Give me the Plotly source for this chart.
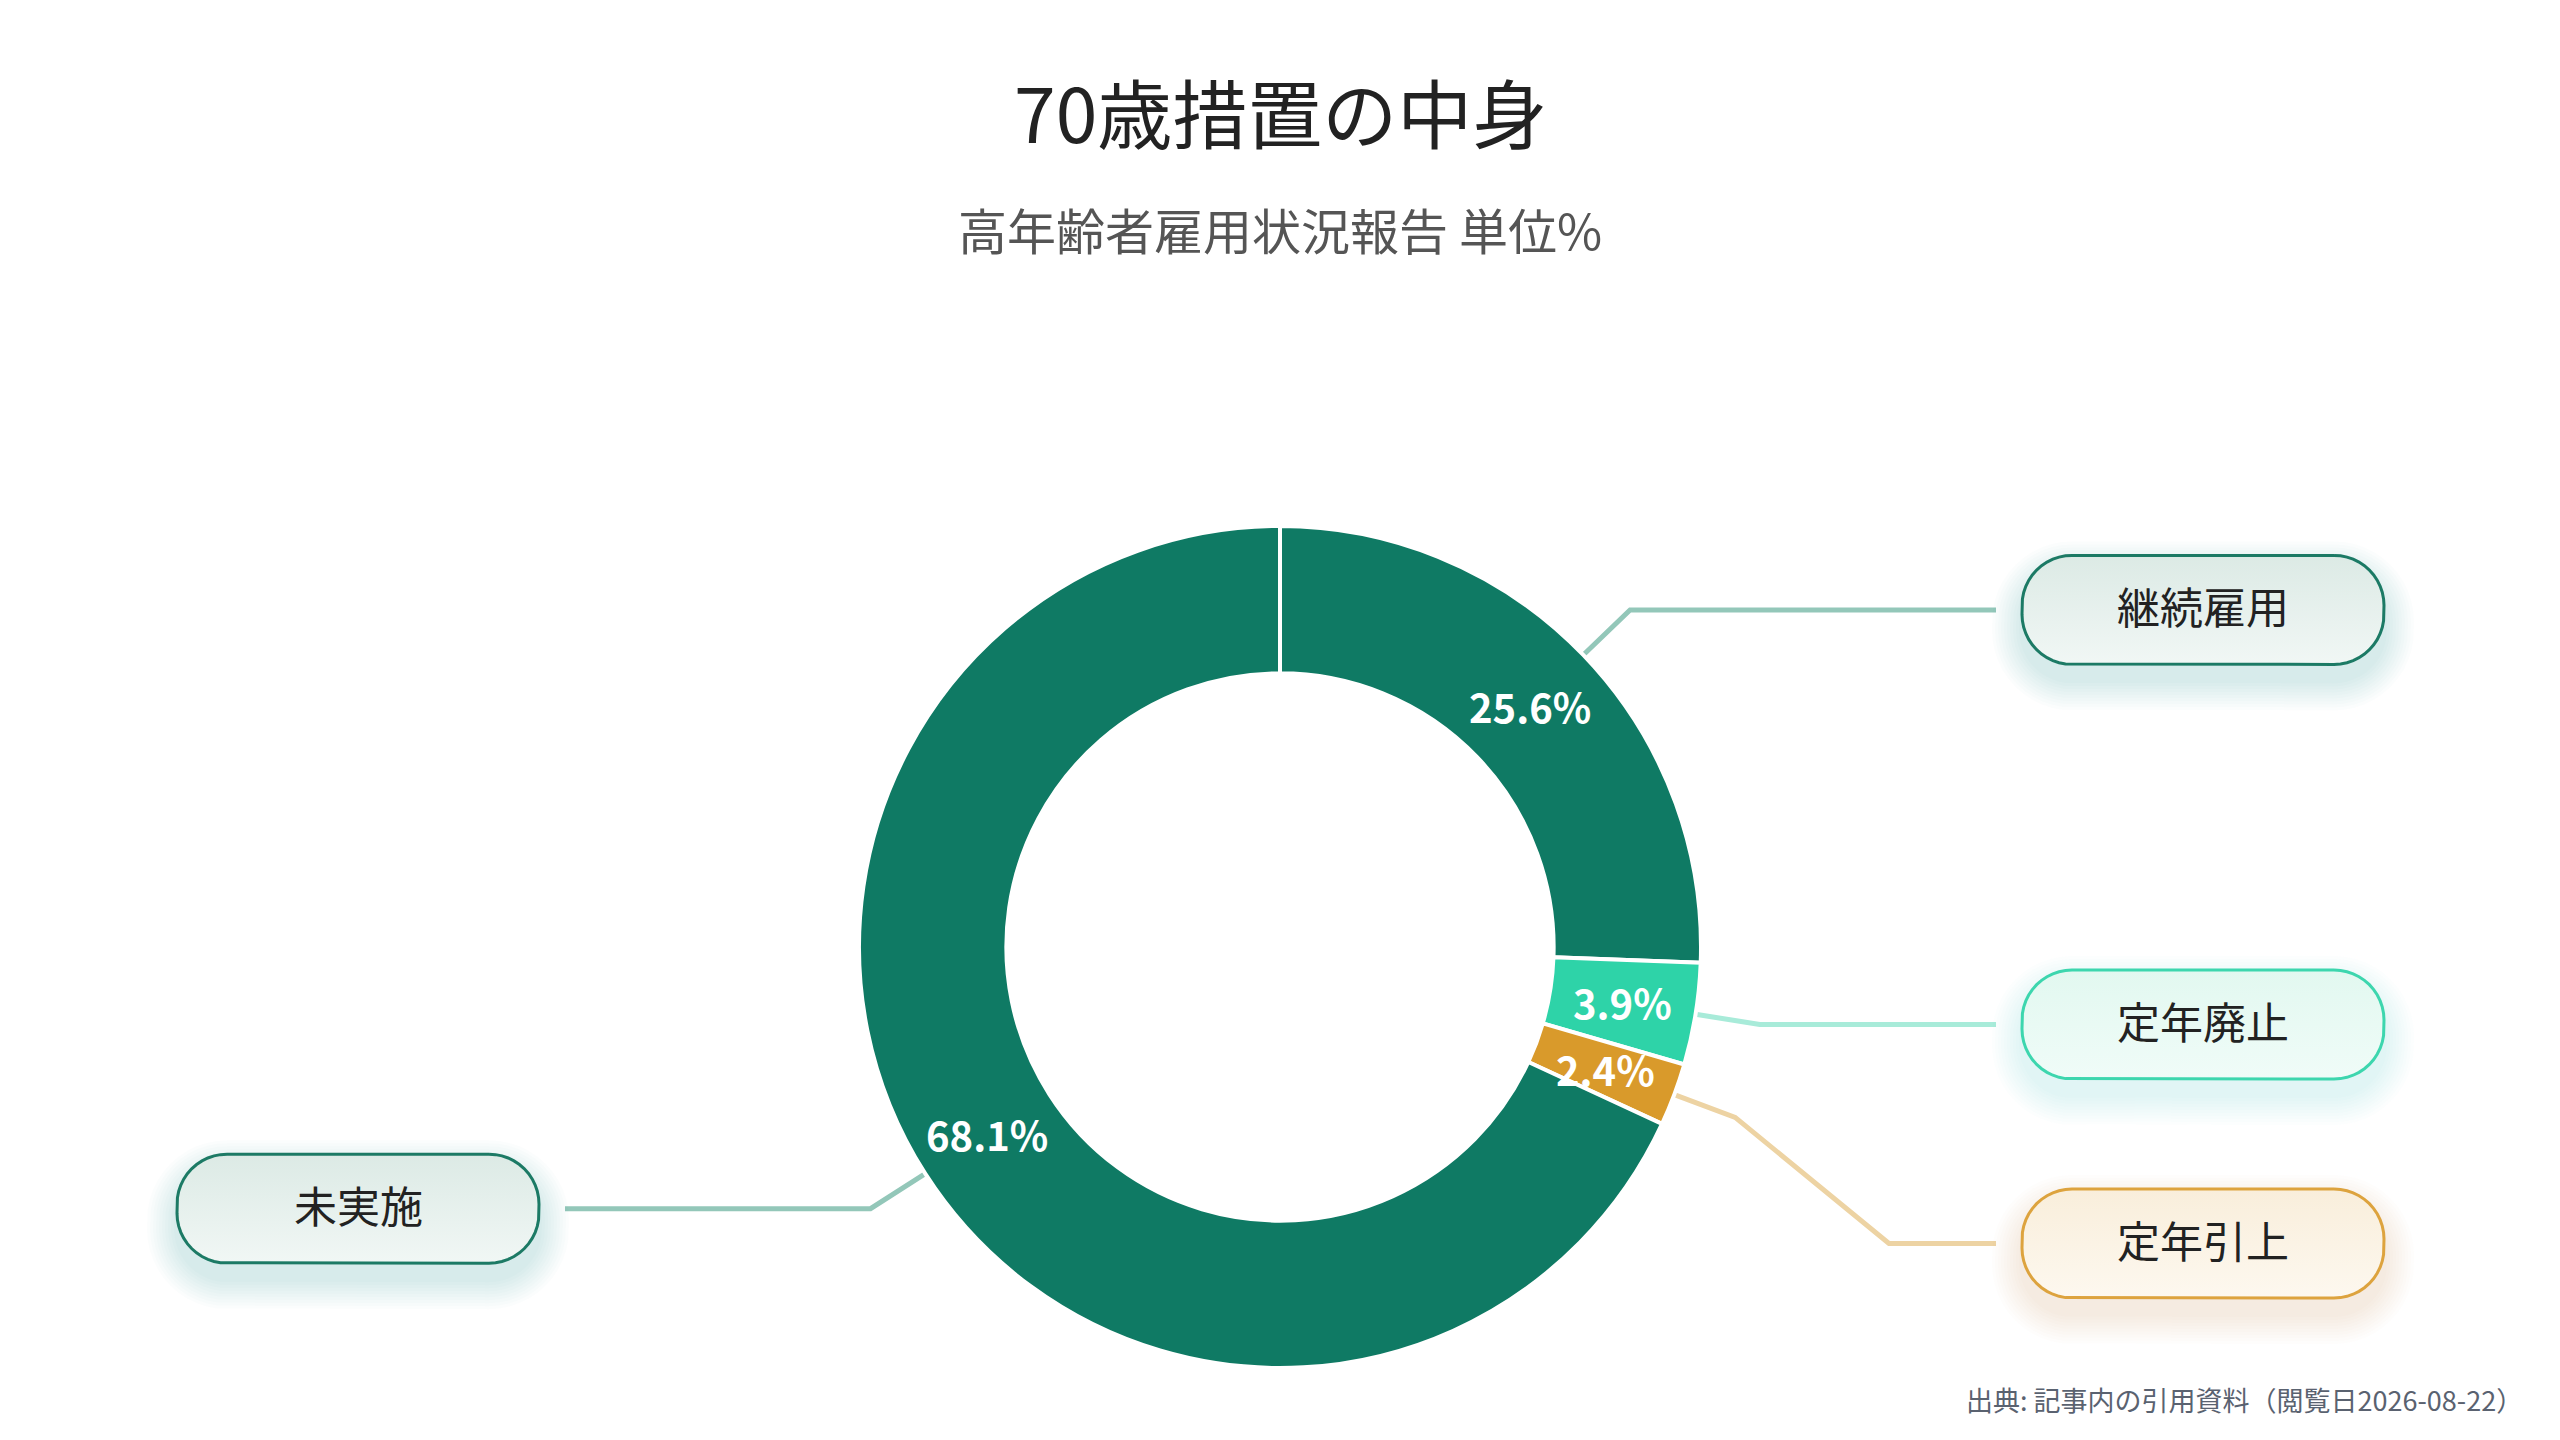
import math
import plotly.graph_objects as go

# data
categories = ["継続雇用", "定年廃止", "定年引上", "未実施"]
values = [25.6, 3.9, 2.4, 68.1]
slice_colors = ["#0F7A64", "#2ED3A8", "#D99A2B", "#0F7A64"]
line_colors = ["#93C7B9", "#A8EBD9", "#EDD3A3", "#93C7B9"]
box_border = ["#1C7A65", "#3DD6AE", "#DDA33E", "#1C7A65"]
box_top = ["#F1F7F5", "#F0FCF8", "#FDF8EF", "#F1F7F5"]
box_bottom = ["#DCEAE5", "#E2F8F0", "#F9EEDB", "#DCEAE5"]
shadow_rgb = ["15,122,100", "46,211,168", "217,154,43", "15,122,100"]

title = "70歳措置の中身"
subtitle = "高年齢者雇用状況報告 単位%"
source = "出典: 記事内の引用資料（閲覧日2026-08-22）"

W, H = 2560, 1440
OFF = 8            # page body margin, so page pixels = data coords
FONT = "Noto Sans CJK JP, Noto Sans, sans-serif"
cx, cy, R = 1280, 947, 421
HOLE = 0.65
LEN1 = 65          # radial part of the leader line
LEN2 = 107         # last horizontal part
BOX_W, BOX_H, BOX_RAD = 362, 109, 50
RIGHT_BOX_X = 2022
LEFT_BOX_X = 539   # right edge of left boxes
GAP = 26
MIN_DY = 219


def rounded_box(x0, y0, x1, y1, r, n=12):
    xs, ys = [], []
    corners = [(x1 - r, y0 + r, -90), (x1 - r, y1 - r, 0), (x0 + r, y1 - r, 90), (x0 + r, y0 + r, 180)]
    for ccx, ccy, start in corners:
        for k in range(n + 1):
            a = math.radians(start + 90 * k / n)
            xs.append(ccx + r * math.cos(a))
            ys.append(ccy + r * math.sin(a))
    xs.append(xs[0])
    ys.append(ys[0])
    return xs, ys


fig = go.Figure()

# leader lines + label boxes
total = sum(values)
cum = 0
items = []
for i, v in enumerate(values):
    mid = math.radians((cum + v / 2) / total * 360)
    cum += v
    s, c = math.sin(mid), math.cos(mid)
    p0 = (cx + R * s, cy - R * c)
    p1 = (cx + (R + LEN1) * s, cy - (R + LEN1) * c)
    items.append(dict(i=i, mid=mid, p0=p0, p1=p1, right=s > 0, ly=p1[1]))

for side in (True, False):
    grp = sorted([it for it in items if it["right"] == side], key=lambda it: it["ly"])
    for a, b in zip(grp, grp[1:]):
        if b["ly"] - a["ly"] < MIN_DY:
            b["ly"] = a["ly"] + MIN_DY

for it in items:
    i = it["i"]
    x0, y0 = it["p0"]
    x1, y1 = it["p1"]
    ly = it["ly"]
    if it["right"]:
        xend = RIGHT_BOX_X - GAP
        bx0, bx1 = RIGHT_BOX_X, RIGHT_BOX_X + BOX_W
        sgn = 1
    else:
        xend = LEFT_BOX_X + GAP
        bx0, bx1 = LEFT_BOX_X - BOX_W, LEFT_BOX_X
        sgn = -1
    px, py = [x0, x1], [y0, y1]
    if abs(ly - y1) > 2:
        px.append(xend - sgn * LEN2)
        py.append(ly)
    px.append(xend)
    py.append(ly)
    fig.add_trace(go.Scatter(x=px, y=py, mode="lines", line=dict(color=line_colors[i], width=5),
                             hoverinfo="skip", showlegend=False))

    by0, by1 = ly - BOX_H / 2, ly + BOX_H / 2
    # soft shadow
    for k in range(1, 11):
        e = 3 * k
        sx, sy = rounded_box(bx0 - e, by0 - e + 16, bx1 + e, by1 + e + 16, BOX_RAD + e)
        fig.add_trace(go.Scatter(x=sx, y=sy, mode="lines", line=dict(width=0), fill="toself",
                                 fillcolor=f"rgba({shadow_rgb[i]},0.014)", hoverinfo="skip", showlegend=False))
    bx, byy = rounded_box(bx0, by0, bx1, by1, BOX_RAD)
    fig.add_trace(go.Scatter(x=bx, y=byy, mode="lines", line=dict(color=box_border[i], width=3),
                             fill="toself",
                             fillgradient=dict(type="vertical", colorscale=[[0, box_top[i]], [1, box_bottom[i]]]),
                             hoverinfo="skip", showlegend=False))
    fig.add_annotation(x=(bx0 + bx1) / 2, y=ly - 5, xref="x", yref="y", text=categories[i], showarrow=False,
                       font=dict(family=FONT, size=43, color="#222222"))

    # percent label inside the ring
    rm = R * (1 + HOLE) / 2
    fig.add_annotation(x=cx + rm * math.sin(it["mid"]), y=cy - rm * math.cos(it["mid"]), xref="x", yref="y",
                       text=f"<b>{values[i]:.1f}%</b>", showarrow=False,
                       font=dict(family=FONT, size=40, color="white"))

fig.add_trace(go.Pie(
    labels=categories, values=values, sort=False, direction="clockwise", rotation=0, hole=HOLE,
    marker=dict(colors=slice_colors, line=dict(color="white", width=4)),
    textinfo="none", hoverinfo="label+percent", showlegend=False,
    domain=dict(x=[(cx - OFF - R) / W, (cx - OFF + R) / W],
                y=[1 - (cy - OFF + R) / H, 1 - (cy - OFF - R) / H]),
))

fig.add_annotation(x=W / 2, y=110, xref="x", yref="y", text=title, showarrow=False,
                   font=dict(family=FONT, size=75, color="#222222"))
fig.add_annotation(x=W / 2, y=228, xref="x", yref="y", text=subtitle, showarrow=False,
                   font=dict(family=FONT, size=49, color="#555555"))
fig.add_annotation(x=2525, y=1399, xref="x", yref="y", text=source, showarrow=False, xanchor="right",
                   font=dict(family=FONT, size=27, color="#5A6270"))

fig.update_layout(
    width=W, height=H,
    margin=dict(l=0, r=0, t=0, b=0),
    paper_bgcolor="white", plot_bgcolor="white",
    xaxis=dict(range=[OFF, W + OFF], visible=False, fixedrange=True, domain=[0, 1]),
    yaxis=dict(range=[H + OFF, OFF], visible=False, fixedrange=True, domain=[0, 1]),
    font=dict(family=FONT),
)

fig.write_html("out.html")
